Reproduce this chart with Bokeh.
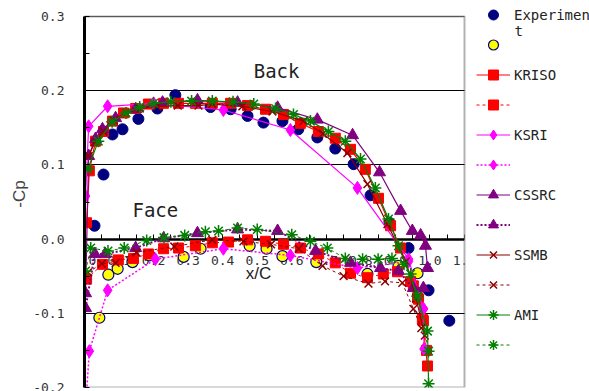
from bokeh.plotting import figure
from bokeh.models import (Range1d, FixedTicker, Legend, LegendItem, Label,
                          LinearAxis, Grid, BoxAnnotation)
from bokeh.embed import file_html
from bokeh.resources import INLINE

# ---------------- data (x/C , -Cp) ----------------
exp_back_x = [0.029, 0.055, 0.081, 0.110, 0.156, 0.211, 0.263, 0.365, 0.423, 0.472, 0.518,
              0.573, 0.619, 0.674, 0.726, 0.779, 0.828, 0.883, 0.938, 0.996, 1.056]
exp_back_cp = [0.018, 0.087, 0.141, 0.148, 0.162, 0.176, 0.194, 0.178, 0.175, 0.166, 0.157,
               0.159, 0.148, 0.137, 0.122, 0.101, 0.059, 0.022, -0.012, -0.069, -0.110]

exp_face_x = [0.043, 0.069, 0.096, 0.139, 0.188, 0.287, 0.336, 0.478, 0.527, 0.573, 0.671,
              0.819, 0.909, 0.964]
exp_face_cp = [-0.106, -0.048, -0.040, -0.031, -0.022, -0.024, -0.013, -0.009, -0.013, -0.023,
               -0.031, -0.047, -0.036, -0.046]

kriso_back_x = [0.006, 0.014, 0.032, 0.055, 0.081, 0.113, 0.148, 0.185, 0.229, 0.272, 0.321,
                0.370, 0.423, 0.472, 0.524, 0.576, 0.625, 0.677, 0.726, 0.770, 0.813, 0.851,
                0.886, 0.915, 0.952, 0.967, 0.978, 0.993]
kriso_back_cp = [0.022, 0.092, 0.132, 0.145, 0.159, 0.170, 0.176, 0.182, 0.183, 0.183, 0.183,
                 0.183, 0.183, 0.180, 0.175, 0.168, 0.156, 0.145, 0.136, 0.121, 0.094, 0.055,
                 0.018, -0.012, -0.063, -0.081, -0.108, -0.171]

kriso_face_x = [0.006, 0.052, 0.098, 0.142, 0.185, 0.229, 0.272, 0.321, 0.370, 0.417, 0.472,
                0.524, 0.576, 0.625, 0.677, 0.726, 0.770, 0.819, 0.865, 0.906, 0.944, 0.964,
                0.981, 0.990]
kriso_face_cp = [-0.054, -0.034, -0.028, -0.026, -0.020, -0.013, -0.012, -0.009, -0.005, -0.004,
                 -0.001, -0.003, -0.007, -0.012, -0.020, -0.032, -0.046, -0.052, -0.047, -0.044,
                 -0.057, -0.079, -0.110, -0.150]

ksri_back_x = [0.000, 0.003, 0.012, 0.067, 0.200, 0.402, 0.596, 0.790, 0.938, 0.981, 0.983]
ksri_back_cp = [-0.092, 0.058, 0.152, 0.179, 0.183, 0.174, 0.147, 0.069, -0.027, -0.094, -0.148]

ksri_face_x = [0.004, 0.014, 0.067, 0.205, 0.402, 0.596, 0.790, 0.938, 0.981]
ksri_face_cp = [-0.220, -0.151, -0.069, -0.027, -0.013, -0.022, -0.039, -0.030, -0.094]

cssrc_back_x = [0.003, 0.012, 0.032, 0.052, 0.090, 0.148, 0.226, 0.327, 0.443, 0.559, 0.674,
                0.776, 0.854, 0.915, 0.949, 0.973, 0.987, 0.993]
cssrc_back_cp = [-0.073, 0.112, 0.135, 0.148, 0.163, 0.175, 0.184, 0.187, 0.184, 0.177, 0.161,
                 0.140, 0.090, 0.038, 0.011, 0.005, -0.009, -0.039]

cssrc_face_x = [0.003, 0.030, 0.060, 0.148, 0.229, 0.327, 0.443, 0.559, 0.669, 0.770, 0.857,
                0.909, 0.952, 0.981]
cssrc_face_cp = [-0.093, -0.020, -0.020, -0.012, 0.001, 0.008, 0.013, 0.011, -0.016, -0.032,
                 -0.039, -0.043, -0.066, -0.066]

ssmb_back_x = [0.012, 0.030, 0.055, 0.085, 0.120, 0.160, 0.210, 0.270, 0.330, 0.370, 0.457,
               0.544, 0.634, 0.690, 0.761, 0.819, 0.877, 0.930, 0.960, 0.985]
ssmb_back_cp = [0.112, 0.131, 0.145, 0.160, 0.170, 0.176, 0.179, 0.180, 0.180, 0.182, 0.179,
                0.172, 0.159, 0.142, 0.116, 0.074, 0.020, -0.030, -0.080, -0.130]

ssmb_face_x = [0.010, 0.050, 0.090, 0.150, 0.260, 0.370, 0.460, 0.540, 0.620, 0.689, 0.750,
               0.822, 0.870, 0.920, 0.952, 0.975]
ssmb_face_cp = [-0.045, -0.033, -0.032, -0.018, -0.010, -0.001, -0.003, -0.007, -0.013, -0.036,
                -0.050, -0.060, -0.057, -0.059, -0.094, -0.120]

ami_back_x = [0.010, 0.040, 0.080, 0.120, 0.160, 0.200, 0.250, 0.310, 0.370, 0.430, 0.490,
              0.553, 0.605, 0.654, 0.706, 0.755, 0.799, 0.842, 0.880, 0.909, 0.964, 0.993, 0.996]
ami_back_cp = [0.095, 0.132, 0.158, 0.170, 0.178, 0.183, 0.185, 0.186, 0.186, 0.185, 0.182,
               0.176, 0.168, 0.159, 0.145, 0.132, 0.108, 0.069, 0.027, -0.009, -0.077, -0.124, -0.195]

ami_face_x = [0.003, 0.018, 0.068, 0.115, 0.180, 0.230, 0.290, 0.350, 0.388, 0.443, 0.500,
              0.600, 0.654, 0.703, 0.755, 0.805, 0.850, 0.890, 0.925, 0.944, 0.964, 0.996]
ami_face_cp = [-0.043, -0.012, -0.016, -0.012, -0.002, 0.002, 0.005, 0.010, 0.011, 0.015, 0.013,
               0.006, -0.003, -0.012, -0.026, -0.027, -0.027, -0.026, -0.034, -0.047, -0.077, -0.151]

x_ticks = [0.0, 0.1, 0.2, 0.3, 0.4, 0.5, 0.6, 0.7, 0.8, 0.9, 1.0, 1.1]
x_tick_labels = ["0.0", "0.1", "0.2", "0.3", "0.4", "0.5", "0.6", "0.7", "0.8", "0.9", "1.0", "1.1"]
y_ticks = [-0.2, -0.1, 0.0, 0.1, 0.2, 0.3]
y_tick_labels = ["-0.2", "-0.1", "0.0", "0.1", "0.2", "0.3"]
X_MIN, X_MAX = 0.0, 1.1
Y_MIN, Y_MAX = -0.2, 0.3

# ---------------- figure ----------------
# The frame is widened to the right (and up) so that the legend, which sits
# outside the plotted box, can live inside the frame; white boxes mask the rest.
MONO = "DejaVu Sans Mono"
PX_X = 380 / (X_MAX - X_MIN)      # px per unit x
PX_Y = 371 / (Y_MAX - Y_MIN)      # px per unit y
p = figure(frame_width=505, frame_height=387, output_backend="svg", toolbar_location=None,
           x_range=Range1d(X_MIN, X_MIN + 505 / PX_X),
           y_range=Range1d(Y_MIN, Y_MIN + 387 / PX_Y),
           min_border_left=84, min_border_right=0, min_border_top=0, min_border_bottom=4,
           x_axis_location=None, y_axis_location="left")
p.grid.visible = False
p.outline_line_color = None
p.background_fill_color = "white"
p.border_fill_color = "white"

ya = p.yaxis[0]
ya.bounds = (Y_MIN, Y_MAX)
ya.ticker = FixedTicker(ticks=y_ticks, minor_ticks=[-0.15, -0.05, 0.05, 0.15, 0.25])
ya.major_label_overrides = {t: l for t, l in zip(y_ticks, y_tick_labels)}
ya.axis_label = "-Cp"
ya.axis_label_text_font = "Liberation Sans"
ya.axis_label_text_font_size = "17px"
ya.axis_label_text_font_style = "normal"
ya.axis_label_standoff = 1
ya.major_label_text_font = MONO
ya.major_label_text_font_size = "13px"
ya.major_label_text_color = "#333333"
ya.major_label_standoff = 20
ya.axis_line_width = 3
ya.major_tick_in = 5
ya.major_tick_out = 0
ya.minor_tick_in = 5
ya.minor_tick_out = 0

grid = Grid(dimension=1, ticker=FixedTicker(ticks=y_ticks), grid_line_color="black",
            grid_line_width=1)
p.add_layout(grid)

xa = LinearAxis(fixed_location=0, bounds=(X_MIN, X_MAX),
                ticker=FixedTicker(ticks=x_ticks,
                                   minor_ticks=[t + 0.05 for t in x_ticks[:-1]]))
xa.major_label_overrides = {t: l for t, l in zip(x_ticks, x_tick_labels)}
xa.major_label_text_font = MONO
xa.major_label_text_font_size = "13px"
xa.major_label_text_color = "#333333"
xa.major_label_standoff = 17
xa.axis_line_width = 2.5
xa.major_tick_in = 5
xa.major_tick_out = 0
xa.minor_tick_in = 5
xa.minor_tick_out = 0
xa.level = "underlay"
p.add_layout(xa, "below")

# x-axis title (placed as in the original, left of the box centre)
p.add_layout(Label(x=0.504, y=-0.047, text="x/C", text_font="Liberation Sans",
                   text_font_size="17px", text_color="#222222",
                   text_align="center", text_baseline="middle"))

# masks outside the plotted box, then the box border
p.add_layout(BoxAnnotation(left=X_MAX, fill_color="white", fill_alpha=1,
                           line_color=None, level="glyph"))
p.add_layout(BoxAnnotation(bottom=Y_MAX, fill_color="white", fill_alpha=1,
                           line_color=None, level="glyph"))
p.add_layout(BoxAnnotation(left=X_MIN, right=X_MAX, bottom=Y_MIN, top=Y_MAX,
                           fill_alpha=0, line_color="black", line_width=2, level="glyph"))

# ---------------- series ----------------
items = []

r = p.scatter(exp_back_x, exp_back_cp, marker="circle", size=11, fill_color="#000080",
              line_color="#000080")
items.append(LegendItem(label="Experimen", renderers=[r]))
r = p.scatter(exp_face_x, exp_face_cp, marker="circle", size=11, fill_color="#FFFF00",
              line_color="#000080", line_width=1.2)
items.append(LegendItem(label=" ", renderers=[r]))

series = [
    ("KRISO", kriso_back_x, kriso_back_cp, kriso_face_x, kriso_face_cp, "#FF0000", "square", 10, "3 3", 1),
    ("KSRI", ksri_back_x, ksri_back_cp, ksri_face_x, ksri_face_cp, "#FF00FF", "diamond", 13, "2 2", 1.5),
    ("CSSRC", cssrc_back_x, cssrc_back_cp, cssrc_face_x, cssrc_face_cp, "#800080", "triangle", 12, "2 2", 2),
    ("SSMB", ssmb_back_x, ssmb_back_cp, ssmb_face_x, ssmb_face_cp, "#8B0000", "x", 11, "3 3", 1),
    ("AMI", ami_back_x, ami_back_cp, ami_face_x, ami_face_cp, "#008000", "asterisk", 12, "3 3", 1),
]
for name, bx, by, fx, fy, col, mk, sz, dash, dw in series:
    l1 = p.line(bx, by, line_color=col, line_width=1.2)
    m1 = p.scatter(bx, by, marker=mk, size=sz, fill_color=col, line_color=col,
                   line_width=1.5 if mk in ("x", "asterisk") else 1)
    items.append(LegendItem(label=name, renderers=[l1, m1]))
    l2 = p.line(fx, fy, line_color=col, line_width=dw, line_dash=dash)
    m2 = p.scatter(fx, fy, marker=mk, size=sz, fill_color=col, line_color=col,
                   line_width=1.5 if mk in ("x", "asterisk") else 1)
    items.append(LegendItem(label=" ", renderers=[l2, m2]))

legend = Legend(items=items, location=(392, 30), orientation="vertical",
                glyph_width=34, glyph_height=25, label_height=25, spacing=5,
                label_standoff=4, padding=0, margin=0,
                label_text_font=MONO, label_text_font_size="14px",
                label_text_color="#222222", label_text_baseline="middle",
                border_line_color=None, background_fill_alpha=0)
p.add_layout(legend, "center")

# wrapped tail of the "Experiment" legend label
p.add_layout(Label(x=430, y=357, x_units="screen", y_units="screen", text="t",
                   text_font=MONO, text_font_size="14px", text_color="#222222",
                   text_align="left", text_baseline="middle"))

p.add_layout(Label(x=0.556, y=0.226, text="Back", text_font=MONO, text_font_size="19px",
                   text_color="#222222", text_align="center", text_baseline="middle"))
p.add_layout(Label(x=0.205, y=0.039, text="Face", text_font=MONO, text_font_size="19px",
                   text_color="#222222", text_align="center", text_baseline="middle"))

open("out.html", "w").write(file_html(p, INLINE))
